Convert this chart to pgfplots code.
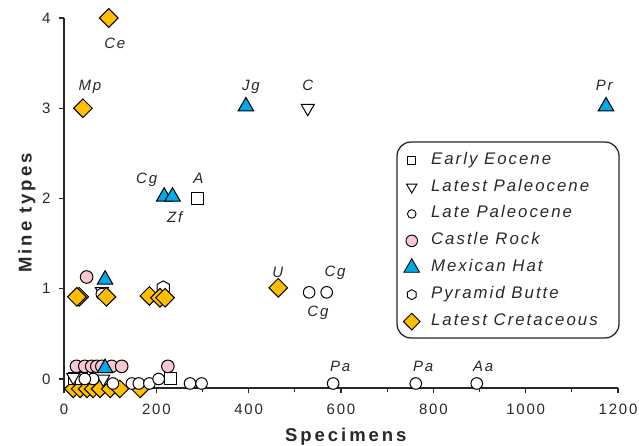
\documentclass[border=0pt]{standalone}
\usepackage{fontspec}
\setmainfont{Liberation Sans}[LetterSpace=12]
\usepackage{pgfplots}
\pgfplotsset{compat=1.18}
\usetikzlibrary{plotmarks}
\definecolor{axgray}{RGB}{40,40,40}
\definecolor{pinkc}{RGB}{248,200,210}
\definecolor{cyanc}{RGB}{0,170,230}
\definecolor{goldc}{RGB}{255,190,0}
\pgfdeclareplotmark{hexagon}{%
 \pgfpathmoveto{\pgfpointpolar{90}{\pgfplotmarksize}}%
 \pgfpathlineto{\pgfpointpolar{150}{\pgfplotmarksize}}%
 \pgfpathlineto{\pgfpointpolar{210}{\pgfplotmarksize}}%
 \pgfpathlineto{\pgfpointpolar{270}{\pgfplotmarksize}}%
 \pgfpathlineto{\pgfpointpolar{330}{\pgfplotmarksize}}%
 \pgfpathlineto{\pgfpointpolar{30}{\pgfplotmarksize}}%
 \pgfpathclose\pgfusepathqfillstroke}
\begin{document}
\begin{tikzpicture}[lab/.style={font=\fontsize{15bp}{18bp}\selectfont\itshape, text height=11bp, text depth=0pt, inner sep=0pt, anchor=center, text=axgray}]
\begin{axis}[
 scale only axis, width=554bp, height=370bp,
 xmin=0, xmax=1200, ymin=-0.1, ymax=4,
 axis x line=bottom, axis y line=left,
 axis line style={line width=1.5bp, draw=axgray, -},
 axis on top,
 xtick={0,200,...,1200}, minor xtick={100,300,...,1100},
 ytick={0,1,2,3,4},
 tick align=outside, major tick length=5bp, minor tick length=4bp,
 tick style={line width=1.2bp, draw=axgray},
 ticklabel style={font=\fontsize{15bp}{18bp}\selectfont, text=axgray},
 xticklabel style={yshift=-8bp},
 yticklabel style={xshift=-5bp},
 /pgf/number format/assume math mode=true,
 /pgf/number format/1000 sep={},
 clip=false,
 legend style={at={(0.6123,0.6527)}, anchor=north west, draw=none, fill=none,
   font=\fontsize{16.8bp}{19bp}\selectfont\itshape,
   inner xsep=0bp, inner ysep=0bp, row sep=0pt, column sep=8bp,
   nodes={inner xsep=3bp, inner ysep=5.45bp, text height=12bp, text depth=4bp, text=axgray},
   cells={anchor=west}},
 legend cell align=left,
]
\draw[rounded corners=14bp, line width=1.3bp, draw=axgray] (rel axis cs:0.6011,0.6649) rectangle (rel axis cs:1.0018,0.1351);
% Latest Cretaceous (row 0, drawn underneath)
\addplot[forget plot, only marks, mark=square*, mark size=6.2bp, mark options={rotate=45}, draw=black, fill=goldc, line width=1bp] coordinates {
 (20,-0.11) (35,-0.11) (50,-0.11) (63,-0.11) (78,-0.11) (100,-0.11) (121,-0.11) (165,-0.11)};
% Early Eocene
\addplot[forget plot, only marks, mark=square*, mark size=6bp, draw=black, fill=white, line width=1bp] coordinates {
 (289,2.0) (22,0.0) (38,0.0) (230,0.01)};
% Latest Paleocene
\addplot[forget plot, only marks, mark=triangle*, mark size=7.5bp, mark options={rotate=180}, draw=black, fill=white, line width=1bp] coordinates {
 (528,3) (82,0.97) (20,0.02) (85,0.0)};
% Late Paleocene
\addplot[forget plot, only marks, mark=*, mark size=5.8bp, draw=black, fill=white, line width=1bp] coordinates {
 (82,0.94) (531,0.96) (569,0.96) (63,0.0) (45,0.0) (106,-0.05) (147,-0.05) (162,-0.05) (185,-0.05) (205,0.0) (273,-0.05) (298,-0.05) (583,-0.05) (762,-0.05) (894,-0.05)};
% Castle Rock
\addplot[forget plot, only marks, mark=*, mark size=6.3bp, draw=black, fill=pinkc, line width=1bp] coordinates {
 (49,1.13) (27,0.14) (45,0.14) (60,0.14) (71,0.14) (82,0.14) (103,0.14) (125,0.14) (225,0.14)};
% Mexican Hat
\addplot[forget plot, only marks, mark=triangle*, mark size=9bp, draw=black, fill=cyanc, line width=1bp] coordinates {
 (394,3.02) (1174,3.02) (217,2.02) (235,2.02) (89,1.1) (89,0.12)};
% Pyramid Butte
\addplot[forget plot, only marks, mark=hexagon, mark size=7bp, draw=black, fill=white, line width=1bp] coordinates {
 (215,1.01)};
% Latest Cretaceous
\addplot[forget plot, only marks, mark=square*, mark size=6.6bp, mark options={rotate=45}, draw=black, fill=goldc, line width=1bp] coordinates {
 (97,4) (41,3) (464,1.01) (33,0.91) (28,0.91) (92,0.91) (185,0.92) (208,0.9) (219,0.9)};

\addlegendimage{only marks, mark=square*, mark size=4bp, draw=black, fill=white, line width=0.9bp}
\addlegendentry{Early Eocene}
\addlegendimage{only marks, mark=triangle*, mark size=6bp, mark options={rotate=180}, draw=black, fill=white, line width=0.9bp}
\addlegendentry{Latest Paleocene}
\addlegendimage{only marks, mark=*, mark size=4.3bp, draw=black, fill=white, line width=0.9bp}
\addlegendentry{Late Paleocene}
\addlegendimage{only marks, mark=*, mark size=5.8bp, draw=black, fill=pinkc, line width=0.9bp}
\addlegendentry{Castle Rock}
\addlegendimage{only marks, mark=triangle*, mark size=9bp, draw=black, fill=cyanc, line width=0.9bp}
\addlegendentry{Mexican Hat}
\addlegendimage{only marks, mark=hexagon, mark size=5bp, draw=black, fill=white, line width=0.9bp}
\addlegendentry{Pyramid Butte}
\addlegendimage{only marks, mark=square*, mark size=5.9bp, mark options={rotate=45}, draw=black, fill=goldc, line width=0.9bp}
\addlegendentry{Latest Cretaceous}

\node[lab] at (axis cs:110,3.72) {Ce};
\node[lab] at (axis cs:56,3.26) {Mp};
\node[lab] at (axis cs:405,3.26) {Jg};
\node[lab] at (axis cs:528,3.26) {C};
\node[lab] at (axis cs:1170,3.26) {Pr};
\node[lab] at (axis cs:179,2.23) {Cg};
\node[lab] at (axis cs:291,2.23) {A};
\node[lab] at (axis cs:240,1.80) {Zf};
\node[lab] at (axis cs:463,1.19) {U};
\node[lab] at (axis cs:587,1.20) {Cg};
\node[lab] at (axis cs:550,0.75) {Cg};
\node[lab] at (axis cs:598,0.14) {Pa};
\node[lab] at (axis cs:778,0.14) {Pa};
\node[lab] at (axis cs:908,0.14) {Aa};

\node[rotate=90, anchor=base, inner sep=0pt, text=axgray, font=\fontsize{18.5bp}{22bp}\selectfont\bfseries\addfontfeature{LetterSpace=16}] at ([xshift=-32.3bp]rel axis cs:0,0.473) {Mine types};
\node[anchor=base, inner sep=0pt, text=axgray, font=\fontsize{18.5bp}{22bp}\selectfont\bfseries\addfontfeature{LetterSpace=16}] at ([yshift=-53.5bp]rel axis cs:0.5087,0) {Specimens};
\end{axis}
\pgfresetboundingbox
\path (-64bp,-58bp) rectangle (575bp,388bp);
\end{tikzpicture}
\end{document}
